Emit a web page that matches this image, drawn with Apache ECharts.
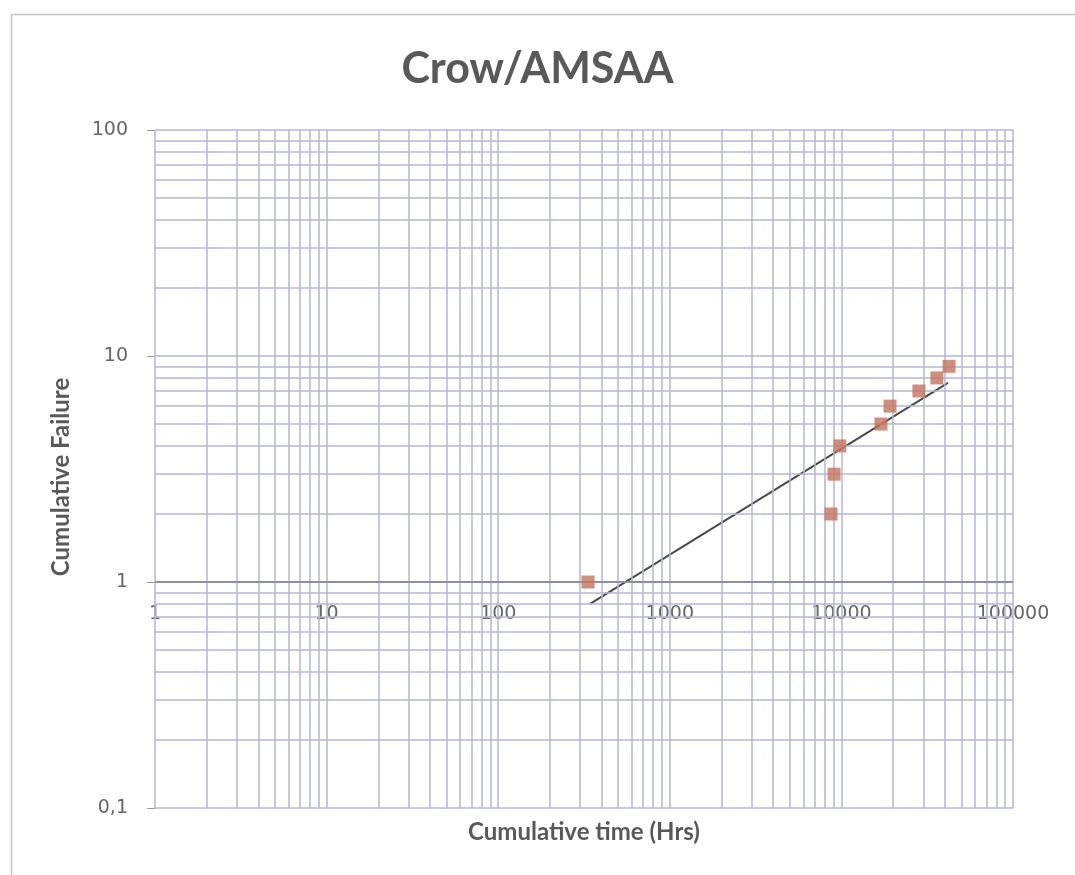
<!DOCTYPE html>
<html><head><meta charset="utf-8">
<script src="https://cdn.jsdelivr.net/npm/echarts@6/dist/echarts.min.js"></script>
<style>html,body{margin:0;padding:0;background:#fff}#c{width:1075px;height:875px}</style>
</head><body><div id="c"></div>
<script>
// Data
var cumTime = [334, 8700, 9060, 9800, 17000, 19200, 28300, 36000, 42400];
var cumFail = [1, 2, 3, 4, 5, 6, 7, 8, 9];
var trendTime = [343, 41800];
var trendFail = [0.80, 7.6];
var xDecades = [1, 10, 100, 1000, 10000];
var yDecades = [0.1, 1, 10];
var xMax = 100000, yMax = 100;

function gridValues(decades, last) {
  var out = [];
  decades.forEach(function (d) { for (var k = 1; k <= 9; k++) out.push(+(d * k).toPrecision(6)); });
  out.push(last);
  return out;
}
var xGrid = gridValues(xDecades, xMax);
var yGrid = gridValues(yDecades, yMax);

var gridColor = '#b3b6d3';
var markData = [];
xGrid.forEach(function (v) { markData.push({ xAxis: v }); });
yGrid.forEach(function (v) {
  if (v === 1) markData.push({ yAxis: v, lineStyle: { color: '#8d8fa6', width: 2 } });
  else markData.push({ yAxis: v });
});

var chart = echarts.init(document.getElementById('c'));
var font = 'Lato, "Open Sans", sans-serif';
var labelFont = '"DejaVu Sans", Verdana, sans-serif';
chart.setOption({
  animation: false,
  backgroundColor: '#ffffff',
  title: {
    text: 'Crow/AMSAA', left: 'center', top: 43,
    textStyle: { fontFamily: font, fontSize: 43, fontWeight: 'bold', color: '#595959' }
  },
  graphic: [{
    type: 'rect', left: 9, top: 12, silent: true,
    shape: { width: 1200, height: 1000 },
    style: { fill: 'none', stroke: '#c4c4c4', lineWidth: 1.5 }
  }],
  grid: { left: 155, right: 62, top: 130, bottom: 67 },
  xAxis: {
    type: 'log', logBase: 10, min: 1, max: xMax,
    name: 'Cumulative time (Hrs)', nameLocation: 'middle', nameGap: 12,
    nameTextStyle: { fontFamily: font, fontSize: 24, fontWeight: 'bold', color: '#595959', verticalAlign: 'top' },
    axisLine: { show: false }, axisTick: { show: false }, splitLine: { show: false },
    axisLabel: {
      margin: -203, fontFamily: labelFont, fontSize: 19, color: '#666666',
      formatter: function (v) { return String(Math.round(v)); }
    }
  },
  yAxis: {
    type: 'log', logBase: 10, min: 0.1, max: yMax,
    name: 'Cumulative Failure', nameLocation: 'middle', nameGap: 82,
    nameTextStyle: { fontFamily: font, fontSize: 24, fontWeight: 'bold', color: '#595959', padding: [0, 0, 0, -16] },
    axisLine: { show: false },
    axisTick: { show: true, length: 8, lineStyle: { color: '#9a9a9a' } },
    splitLine: { show: false },
    axisLabel: {
      margin: 27, fontFamily: labelFont, fontSize: 19, color: '#666666',
      formatter: function (v) { return String(v).replace('.', ','); }
    }
  },
  series: [
    {
      type: 'line', data: [], silent: true, z: 1,
      markLine: {
        silent: true, symbol: 'none', animation: false,
        label: { show: false },
        lineStyle: { color: gridColor, width: 1.5, type: 'solid' },
        data: markData
      }
    },
    {
      type: 'line', showSymbol: false, silent: true, z: 4,
      lineStyle: { color: '#4a4a4a', width: 2 },
      data: trendTime.map(function (t, i) { return [t, trendFail[i]]; })
    },
    {
      type: 'scatter', symbol: 'rect', symbolSize: 13, z: 5,
      itemStyle: { color: '#c4735e' },
      data: cumTime.map(function (t, i) { return [t, cumFail[i]]; })
    }
  ]
});
</script></body></html>
